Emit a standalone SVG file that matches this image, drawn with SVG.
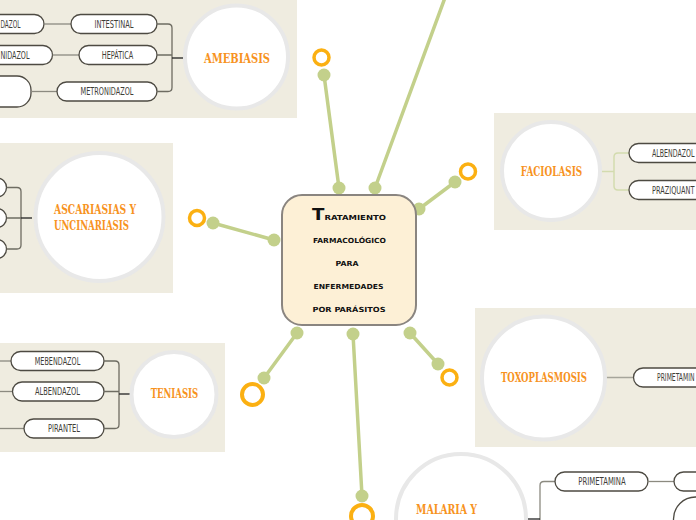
<svg xmlns="http://www.w3.org/2000/svg" width="696" height="520" viewBox="0 0 696 520">
<style>
.panel{fill:#efece0}
.circ{fill:#fff;stroke:#e8e8e8;stroke-width:4}
.pill{fill:#fff;stroke:#4d4a42;stroke-width:1.3}
.ptxt{font-family:"DejaVu Sans Condensed","DejaVu Sans",sans-serif;font-size:10.5px;fill:#3f3e38;text-anchor:middle}
.ptxl{font-family:"DejaVu Sans Condensed","DejaVu Sans",sans-serif;font-size:10.5px;fill:#3f3e38}
.title{font-family:"DejaVu Serif Condensed","DejaVu Serif",serif;font-weight:bold;font-size:13px;fill:#f7931e}
.ln{fill:none;stroke:#8c8a80;stroke-width:1.3}
.br{fill:none;stroke:#6e6c62;stroke-width:1.3}
.tick{stroke:#222;stroke-width:1.3}
.gl{stroke:#c3d08b;stroke-width:3.5;stroke-linecap:round}
.dot{fill:#c3d08b}
.ring{fill:none;stroke:#fbb012;stroke-width:3.5}
.ctr{font-family:"DejaVu Sans",sans-serif;font-weight:bold;font-size:7px;fill:#111;text-anchor:middle}
</style>

<g id="connectors">
  <line class="gl" x1="339" y1="188" x2="324" y2="75"/>
  <circle class="dot" cx="339" cy="188" r="6.5"/>
  <circle class="dot" cx="324" cy="75" r="6.5"/>
  <circle class="ring" cx="321.5" cy="57.5" r="7.5"/>

  <line class="gl" x1="375" y1="188" x2="446" y2="-5"/>
  <circle class="dot" cx="375" cy="188" r="6.5"/>

  <line class="gl" x1="419" y1="209" x2="455" y2="182"/>
  <circle class="dot" cx="419" cy="209" r="6.5"/>
  <circle class="dot" cx="455" cy="182" r="6.5"/>
  <circle class="ring" cx="468" cy="171.5" r="7.5"/>

  <line class="gl" x1="274" y1="240" x2="213" y2="223"/>
  <circle class="dot" cx="274" cy="240" r="6.5"/>
  <circle class="dot" cx="213" cy="223" r="6.5"/>
  <circle class="ring" cx="197" cy="218" r="7.5"/>

  <line class="gl" x1="297" y1="333" x2="264" y2="378"/>
  <circle class="dot" cx="297" cy="333" r="6.5"/>
  <circle class="dot" cx="264" cy="378" r="6.5"/>
  <circle class="ring" cx="252.5" cy="394.5" r="10.5" style="stroke-width:4"/>

  <line class="gl" x1="353" y1="334" x2="362" y2="496"/>
  <circle class="dot" cx="353" cy="334" r="6.5"/>
  <circle class="dot" cx="362" cy="496" r="6.5"/>
  <circle class="ring" cx="362" cy="516" r="11" style="stroke-width:4"/>

  <line class="gl" x1="410" y1="333" x2="438" y2="364"/>
  <circle class="dot" cx="410" cy="333" r="6.5"/>
  <circle class="dot" cx="438" cy="364" r="6.5"/>
  <circle class="ring" cx="449.5" cy="377.5" r="7.5"/>
</g>

<g id="central">
  <rect x="282" y="195" width="134" height="130" rx="20" fill="#fdf0d6" stroke="#8a8580" stroke-width="2"/>
  <text class="ctr" x="349" y="220" textLength="74" lengthAdjust="spacingAndGlyphs"><tspan font-size="15px">T</tspan><tspan>RATAMIENTO</tspan></text>
  <text class="ctr" x="349.5" y="243" textLength="73" lengthAdjust="spacingAndGlyphs">FARMACOLÓGICO</text>
  <text class="ctr" x="347" y="266" textLength="23" lengthAdjust="spacingAndGlyphs">PARA</text>
  <text class="ctr" x="348.5" y="289" textLength="70" lengthAdjust="spacingAndGlyphs">ENFERMEDADES</text>
  <text class="ctr" x="349" y="311.5" textLength="73" lengthAdjust="spacingAndGlyphs">POR PARÁSITOS</text>
</g>

<g id="amebiasis">
  <rect class="panel" x="0" y="0" width="297" height="118"/>
  <rect class="pill" x="-50" y="14.5" width="94" height="19" rx="9.5"/>
  <text class="ptxl" x="0.5" y="27.8" textLength="20" lengthAdjust="spacingAndGlyphs">DAZOL</text>
  <rect class="pill" x="-50" y="45.5" width="102.5" height="19" rx="9.5"/>
  <text class="ptxl" x="0.5" y="58.8" textLength="29" lengthAdjust="spacingAndGlyphs">NIDAZOL</text>
  <rect class="pill" x="-50" y="76" width="81" height="31" rx="14"/>
  <line class="ln" x1="44" y1="24" x2="71" y2="24"/>
  <line class="ln" x1="52.5" y1="55" x2="79" y2="55"/>
  <line class="ln" x1="31" y1="91.5" x2="57" y2="91.5"/>
  <rect class="pill" x="71" y="14.5" width="86" height="19" rx="9.5"/>
  <text class="ptxt" x="114" y="27.8" textLength="39" lengthAdjust="spacingAndGlyphs">INTESTINAL</text>
  <rect class="pill" x="79" y="45.5" width="78" height="19" rx="9.5"/>
  <text class="ptxt" x="117.5" y="58.8" textLength="31.5" lengthAdjust="spacingAndGlyphs">HEPÁTICA</text>
  <rect class="pill" x="57" y="82" width="100" height="19" rx="9.5"/>
  <text class="ptxt" x="107" y="95.3" textLength="53" lengthAdjust="spacingAndGlyphs">METRONIDAZOL</text>
  <path class="br" d="M157 24 H168 Q172 24 172 28 V87.5 Q172 91.5 168 91.5 H157 M157 55 H172"/>
  <line class="tick" x1="172" y1="58" x2="183" y2="58"/>
  <circle class="circ" cx="236.5" cy="57" r="51.5"/>
  <text class="title" x="237" y="62.5" text-anchor="middle" textLength="66" lengthAdjust="spacingAndGlyphs">AMEBIASIS</text>
</g>

<g id="ascariasis">
  <rect class="panel" x="0" y="143" width="173" height="150"/>
  <rect class="pill" x="-60" y="178" width="66.5" height="19" rx="9.5"/>
  <rect class="pill" x="-60" y="208.5" width="66.5" height="19" rx="9.5"/>
  <rect class="pill" x="-60" y="239.5" width="66.5" height="19" rx="9.5"/>
  <path class="br" d="M6.5 187.5 H17 Q21 187.5 21 191.5 V245 Q21 249 17 249 H6.5 M6.5 218 H21"/>
  <line class="tick" x1="21" y1="218" x2="32" y2="218"/>
  <circle class="circ" cx="99.5" cy="217" r="64"/>
  <text class="title" x="54" y="214" textLength="82" lengthAdjust="spacingAndGlyphs">ASCARIASIAS Y</text>
  <text class="title" x="54" y="229.5" textLength="75" lengthAdjust="spacingAndGlyphs">UNCINARIASIS</text>
</g>

<g id="teniasis">
  <rect class="panel" x="0" y="343" width="225" height="109"/>
  <line class="ln" x1="0" y1="361" x2="11" y2="361"/>
  <line class="ln" x1="0" y1="391.5" x2="12.5" y2="391.5"/>
  <line class="ln" x1="0" y1="428.5" x2="24" y2="428.5"/>
  <rect class="pill" x="11" y="351.5" width="93" height="19" rx="9.5"/>
  <text class="ptxt" x="57.5" y="364.8" textLength="45.5" lengthAdjust="spacingAndGlyphs">MEBENDAZOL</text>
  <rect class="pill" x="12.5" y="382" width="91.5" height="19" rx="9.5"/>
  <text class="ptxt" x="57.5" y="395.3" textLength="45" lengthAdjust="spacingAndGlyphs">ALBENDAZOL</text>
  <rect class="pill" x="24" y="419" width="80" height="19" rx="9.5"/>
  <text class="ptxt" x="64" y="432.3" textLength="32" lengthAdjust="spacingAndGlyphs">PIRANTEL</text>
  <path class="br" d="M104 361 H115 Q119 361 119 365 V424.5 Q119 428.5 115 428.5 H104 M104 391.5 H119"/>
  <line class="tick" x1="119" y1="394" x2="130" y2="394"/>
  <circle class="circ" cx="174" cy="394.5" r="42.5"/>
  <text class="title" x="174.5" y="398" text-anchor="middle" textLength="47.5" lengthAdjust="spacingAndGlyphs">TENIASIS</text>
</g>

<g id="faciolasis">
  <rect class="panel" x="494" y="113" width="202" height="117"/>
  <path d="M601 171.5 H614 M629 153 H618 Q614 153 614 157 V186 Q614 190 618 190 H629" fill="none" stroke="#d3dbae" stroke-width="1.5"/>
  <circle class="circ" cx="551" cy="171" r="49"/>
  <text class="title" x="551.5" y="175.5" text-anchor="middle" textLength="61.5" lengthAdjust="spacingAndGlyphs">FACIOLASIS</text>
  <rect class="pill" x="629" y="143.5" width="100" height="19" rx="9.5"/>
  <text class="ptxl" x="652" y="156.8" textLength="42.5" lengthAdjust="spacingAndGlyphs">ALBENDAZOL</text>
  <rect class="pill" x="629" y="180.5" width="100" height="19" rx="9.5"/>
  <text class="ptxl" x="652" y="193.8" textLength="42.5" lengthAdjust="spacingAndGlyphs">PRAZIQUANT</text>
</g>

<g id="toxoplasmosis">
  <rect class="panel" x="475" y="308" width="221" height="139"/>
  <line x1="606" y1="377.5" x2="633.5" y2="377.5" stroke="#a6a59b" stroke-width="1.5"/>
  <circle class="circ" cx="543.5" cy="378" r="61.5"/>
  <text class="title" x="544" y="381.5" text-anchor="middle" textLength="86" lengthAdjust="spacingAndGlyphs">TOXOPLASMOSIS</text>
  <rect class="pill" x="633.5" y="368" width="100" height="19" rx="9.5"/>
  <text class="ptxl" x="657" y="381.3" textLength="37.5" lengthAdjust="spacingAndGlyphs">PRIMETAMIN</text>
</g>

<g id="malaria">
  <circle class="circ" cx="461" cy="519" r="65"/>
  <text class="title" x="416" y="514" textLength="61" lengthAdjust="spacingAndGlyphs">MALARIA Y</text>
  <path class="ln" d="M555 481.5 H544 Q540 481.5 540 485.5 V520"/>
  <line class="tick" x1="528" y1="519" x2="540" y2="519"/>
  <rect class="pill" x="555" y="472" width="93" height="19" rx="9.5"/>
  <text class="ptxt" x="602" y="485.3" textLength="47.5" lengthAdjust="spacingAndGlyphs">PRIMETAMINA</text>
  <line class="ln" x1="648" y1="481.5" x2="674" y2="481.5"/>
  <rect class="pill" x="674" y="472" width="60" height="19" rx="9.5"/>
  <rect class="pill" x="673.5" y="497" width="80" height="50" rx="22"/>
</g>
</svg>
